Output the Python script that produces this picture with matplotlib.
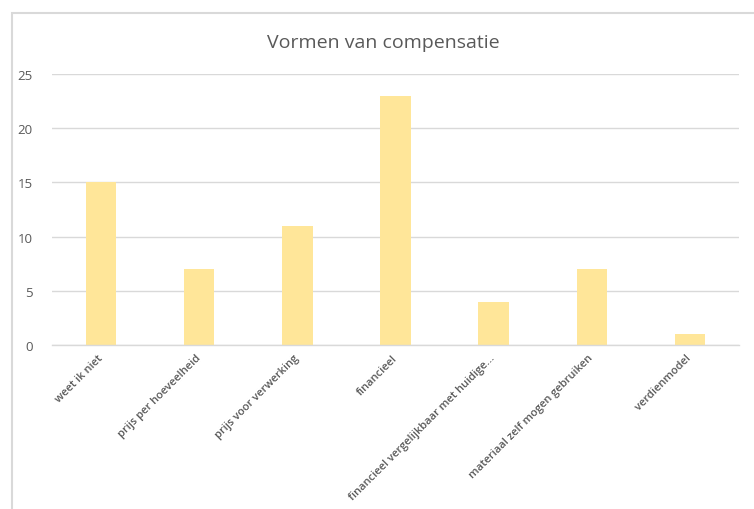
import matplotlib.pyplot as plt
from matplotlib.patches import Rectangle

categories = ['weet ik niet', 'prijs per hoeveelheid', 'prijs voor verwerking',
              'financieel', 'financieel vergelijkbaar met huidige...',
              'materiaal zelf mogen gebruiken', 'verdienmodel']
counts = [15, 7, 11, 23, 4, 7, 1]

plt.rcParams['font.family'] = ['Open Sans', 'DejaVu Sans']

W, H = 754, 510
fig = plt.figure(figsize=(W / 100, H / 100), dpi=100)

# chart frame (left and top edge visible)
fig.patches.append(Rectangle((11.5 / W, -0.1), 1.2, 1 - 13.5 / H + 0.1,
                             transform=fig.transFigure, fill=False,
                             edgecolor='#d9d9d9', linewidth=1.5))

ax = fig.add_axes([52 / W, 1 - 346 / H, (739 - 52) / W, (346 - 75) / H])
x = range(len(categories))
ax.bar(x, counts, width=0.31, color='#ffe699', zorder=2)

ax.set_xlim(-0.5, len(categories) - 0.5)
ax.set_ylim(0, 25)
ax.set_yticks(range(0, 26, 5))
ax.yaxis.grid(True, color='#d9d9d9', linewidth=1)
ax.set_axisbelow(True)
for s in ['top', 'right', 'left']:
    ax.spines[s].set_visible(False)
ax.spines['bottom'].set_color('#d9d9d9')
ax.spines['bottom'].set_linewidth(1)
ax.tick_params(axis='both', length=0, colors='#595959')
ax.tick_params(axis='y', labelsize=9.5, pad=14)

ax.set_xticks(list(x))
ax.set_xticklabels(categories, rotation=45, ha='right', va='center',
                   rotation_mode='anchor', fontsize=8, fontweight='semibold',
                   color='#595959')
ax.tick_params(axis='x', pad=8)

fig.text(383 / W, 1 - 43 / H, 'Vormen van compensatie', ha='center', va='center',
         fontsize=14, color='#595959')

fig.savefig('out.png', dpi=100)
